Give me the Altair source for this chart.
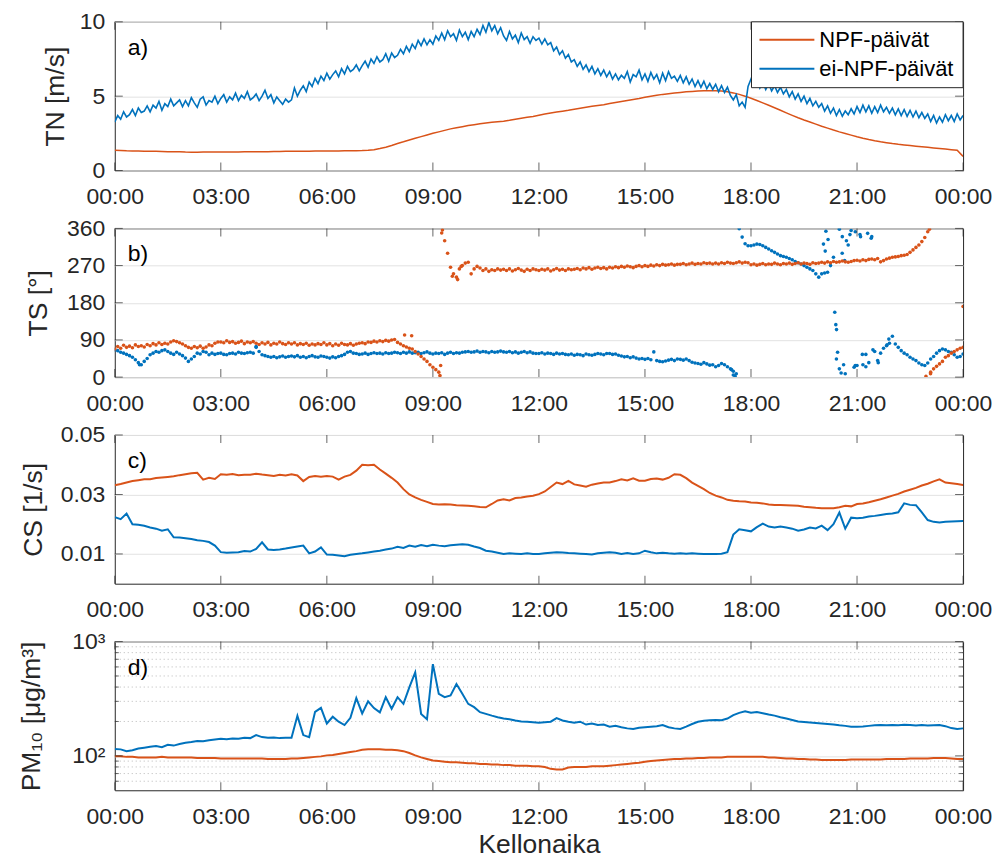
import altair as alt
import pandas as pd

# ---------------------------------------------------------------- data
SERIES = ["NPF-päivät", "ei-NPF-päivät"]
COLORS = ["#D95319", "#0072BD"]
HOUR_TICKS = [0, 3, 6, 9, 12, 15, 18, 21, 24]

# time of day in hours: 10-min steps for smooth series, 5-min steps for noisy ones
H10 = [round(i / 6, 4) for i in range(145)]
H5 = [round(i / 12, 4) for i in range(289)]

# a) wind speed TN [m/s]
TN_NPF = [
    1.36, 1.35, 1.33, 1.32, 1.31, 1.30,
    1.30, 1.29, 1.28, 1.27, 1.27, 1.26,
    1.24, 1.23, 1.23, 1.24, 1.24, 1.24,
    1.25, 1.25, 1.24, 1.25, 1.26, 1.26,
    1.26, 1.27, 1.27, 1.28, 1.28, 1.29,
    1.29, 1.30, 1.30, 1.30, 1.31, 1.31,
    1.31, 1.32, 1.32, 1.33, 1.33, 1.33,
    1.34, 1.36, 1.40, 1.48, 1.57, 1.68,
    1.82, 1.93, 2.05, 2.17, 2.28, 2.39,
    2.50, 2.60, 2.70, 2.80, 2.88, 2.95,
    3.02, 3.08, 3.14, 3.19, 3.24, 3.28,
    3.32, 3.38, 3.45, 3.52, 3.58, 3.64,
    3.72, 3.80, 3.87, 3.93, 3.99, 4.05,
    4.12, 4.19, 4.26, 4.32, 4.38, 4.43,
    4.50, 4.57, 4.64, 4.71, 4.78, 4.85,
    4.93, 5.00, 5.06, 5.12, 5.17, 5.21,
    5.25, 5.29, 5.32, 5.34, 5.36, 5.37,
    5.37, 5.35, 5.30, 5.22, 5.12, 5.00,
    4.86, 4.71, 4.55, 4.39, 4.22, 4.05,
    3.88, 3.71, 3.55, 3.40, 3.26, 3.12,
    2.98, 2.85, 2.72, 2.60, 2.49, 2.38,
    2.27, 2.17, 2.08, 2.00, 1.93, 1.87,
    1.81, 1.76, 1.72, 1.68, 1.64, 1.60,
    1.56, 1.52, 1.48, 1.44, 1.40, 1.36,
    0.95,
]
# 5-min values
TN_NON = [
    3.25, 3.70, 3.45, 3.95, 3.60, 3.75, 4.10, 3.70, 4.20, 3.90, 4.00, 4.35,
    3.95, 4.40, 4.20, 4.65, 4.05, 4.50, 4.30, 4.80, 4.35, 4.55, 4.75, 4.30,
    4.70, 4.35, 4.90, 4.55, 4.25, 4.80, 4.95, 4.40, 4.70, 4.60, 5.00, 4.50,
    4.85, 5.10, 4.60, 4.95, 4.75, 5.20, 4.70, 5.05, 4.85, 5.30, 4.75, 4.90,
    5.15, 4.70, 5.00, 5.40, 4.85, 5.10, 4.55, 4.95, 4.70, 4.45, 4.80, 4.60,
    4.75, 5.55, 5.00, 5.40, 5.70, 5.30, 5.95, 5.65, 6.20, 5.85, 6.35, 6.05,
    6.55, 6.15, 6.45, 6.70, 6.30, 6.85, 6.50, 7.00, 6.65, 6.80, 7.10, 6.70,
    7.05, 7.35, 6.95, 7.50, 7.20, 7.65, 7.30, 7.45, 7.85, 7.35, 7.90, 7.60,
    7.75, 8.15, 7.85, 8.35, 8.00, 8.50, 8.20, 8.75, 8.40, 8.85, 8.45, 8.80,
    8.50, 9.05, 8.75, 9.25, 8.80, 9.40, 9.00, 9.20, 8.75, 9.45, 9.00, 9.30,
    8.80, 9.35, 9.00, 9.50, 9.15, 9.75, 9.30, 9.95, 9.40, 9.75, 9.20, 9.60,
    9.05, 8.75, 9.35, 8.85, 9.10, 8.60, 9.25, 8.80, 9.00, 8.55, 9.00, 8.75,
    8.90, 8.50, 8.85, 8.45, 8.60, 8.05, 8.30, 7.80, 8.05, 7.55, 7.80, 7.30,
    7.45, 7.00, 7.30, 6.80, 7.10, 6.65, 7.00, 6.50, 6.85, 6.40, 6.75, 6.30,
    6.65, 6.15, 6.50, 6.10, 6.40, 6.20, 6.65, 5.95, 6.45, 6.30, 6.75, 6.10,
    6.50, 6.00, 6.60, 6.15, 6.45, 5.90, 6.55, 6.05, 6.65, 6.20, 6.35, 6.00,
    6.40, 5.90, 6.30, 5.80, 6.15, 5.65, 6.05, 5.60, 6.00, 5.50, 5.85, 5.45,
    5.80, 5.30, 5.70, 5.25, 5.60, 5.05, 4.75, 5.10, 4.35, 4.60, 4.25, 5.65,
    6.15, 5.70, 6.05, 5.55, 5.95, 5.45, 5.85, 5.35, 5.70, 5.25, 5.60, 5.15,
    5.45, 4.95, 5.30, 4.80, 5.15, 4.65, 5.00, 4.50, 4.85, 4.35, 4.65, 4.25,
    4.50, 4.00, 4.35, 3.85, 4.20, 3.70, 4.10, 3.65, 4.00, 3.75, 4.15, 3.80,
    4.30, 3.90, 4.40, 3.95, 4.35, 3.85, 4.30, 3.90, 4.40, 3.95, 4.25, 3.85,
    4.20, 3.75, 4.15, 3.70, 4.10, 3.65, 4.05, 3.60, 4.00, 3.55, 3.90, 3.50,
    3.80, 3.30, 3.70, 3.20, 3.60, 3.25, 3.75, 3.35, 3.70, 3.30, 3.80, 3.40,
    3.70,
]

# b) wind direction TS [deg], 5-min values plus scattered single readings
TS_NPF = [
    68, 74, 70, 77, 72, 75, 71, 78, 74, 76, 73, 79,
    76, 81, 78, 83, 79, 82, 80, 85, 88, 86, 83, 80,
    76, 72, 70, 74, 71, 75, 70, 73, 78, 76, 82, 85,
    85, 83, 88, 84, 86, 82, 84, 87, 81, 85, 83, 86,
    82, 79, 83, 80, 84, 78, 82, 80, 85, 81, 79, 83,
    80, 83, 78, 81, 79, 82, 77, 80, 78, 81, 79, 83,
    78, 81, 76, 80, 77, 82, 79, 78, 81, 77, 80, 82,
    83, 81, 85, 84, 87, 85, 88, 86, 89, 87, 90, 91,
    84, 80, 76, 73, 70, 68, 62, 56, 50, 44, 38, 30,
    24, 18, 12, 349, 330, 300, 266, 250, 242, 262, 270, 276,
    278, 250, 262, 268, 264, 258, 262, 256, 260, 258, 262, 259,
    261, 258, 262, 257, 260, 263, 259, 256, 261, 258, 262, 260,
    258, 261, 259, 262, 257, 260, 263, 259, 261, 258, 262, 260,
    261, 263, 260, 264, 262, 265, 261, 264, 266, 263, 265, 262,
    266, 264, 267, 265, 268, 266, 269, 267, 265, 268, 270, 267,
    270, 268, 271, 269, 272, 270, 273, 271, 272, 274, 271, 273,
    273, 275, 272, 274, 276, 273, 275, 274, 277, 275, 276, 274,
    276, 274, 277, 275, 278, 276, 275, 277, 279, 276, 278, 277,
    272, 274, 271, 273, 275, 272, 274, 273, 276, 274, 272, 275,
    274, 276, 273, 275, 277, 274, 276, 275, 273, 277, 275, 276,
    278, 276, 279, 277, 280, 278, 279, 281, 279, 278, 280, 282,
    283, 281, 284, 282, 285, 286, 284, 287, 279, 282, 286, 288,
    290, 291, 292, 294, 295, 297, 302, 308, 314, 320, 328, 338,
    352, 12, 20, 26, 32, 38, 48, 52, 58, 62, 66, 70,
    72,
]
TS_NPF_EXTRA_H = [8.2, 8.4, 9.2, 9.22, 9.27, 9.55, 9.7, 9.8, 22.95, 23.05, 23.08, 24.0]
TS_NPF_EXTRA_V = [102, 100, 4, 28, 356, 244, 236, 268, 2, 358, 8, 171]

TS_NON = [
    66, 64, 60, 58, 55, 52, 48, 42, 35, 30, 38, 45,
    54, 58, 62, 60, 64, 66, 62, 58, 55, 60, 56, 52,
    46, 38, 44, 50, 58, 56, 62, 60, 54, 58, 55, 57,
    58, 55, 54, 57, 58, 56, 60, 58, 57, 59, 60, 58,
    72, 62, 54, 52, 50, 48, 50, 47, 49, 51, 48, 50,
    51, 49, 52, 48, 50, 47, 50, 52, 49, 48, 51, 50,
    48, 46, 49, 47, 50, 52, 55, 60, 62, 58, 57, 55,
    56, 58, 55, 57, 59, 57, 58, 56, 59, 57, 58, 60,
    59, 57, 60, 58, 61, 58, 59, 60, 57, 59, 61, 58,
    56, 58, 57, 59, 55, 58, 60, 57, 59, 58, 60, 61,
    62, 60, 61, 63, 60, 62, 61, 59, 62, 60, 61, 63,
    61, 60, 62, 59, 61, 58, 60, 62, 59, 61, 58, 57,
    57, 59, 56, 58, 57, 55, 58, 56, 57, 55, 54, 56,
    53, 55, 54, 52, 56, 54, 53, 55, 57, 56, 54, 57,
    57, 55, 56, 53, 51, 49, 50, 47, 49, 46, 44, 45,
    43, 45, 42, 61, 40, 38, 37, 39, 41, 43, 40, 44,
    43, 41, 44, 40, 36, 34, 33, 31, 35, 32, 29, 30,
    25, 28, 33, 30, 25, 20, 14, 8, 359, 339, 323, 318,
    318, 320, 322, 321, 318, 314, 310, 306, 302, 298, 294, 292,
    290, 287, 284, 280, 277, 274, 270, 266, 262, 258, 250, 242,
    250, 252, 254, 270, 290, 44, 20, 340, 8, 320, 355, 24,
    28, 345, 30, 55, 35, 340, 62, 40, 58, 70, 76, 82,
    99, 80, 72, 64, 58, 54, 48, 44, 40, 34, 30, 28,
    34, 44, 50, 58, 64, 68, 66, 62, 60, 54, 48, 50,
    56,
]
TS_NON_EXTRA_H = [0.7, 4.0, 17.45, 17.5, 17.55, 20.05, 20.1, 20.12, 20.18, 20.37, 20.4,
                  20.42, 20.45, 20.5, 20.55, 20.58, 20.62, 20.65, 20.7, 20.8, 20.95,
                  20.95, 21.1, 21.15, 21.25, 21.3, 21.4, 21.45, 21.6, 21.85, 21.9]
TS_NON_EXTRA_V = [30, 74, 18, 5, 2, 322, 305, 353, 333, 157, 127,
                  115, 60, 358, 10, 300, 30, 282, 330, 345, 352,
                  28, 340, 55, 25, 348, 336, 66, 35, 78, 92]

# c) condensation sink CS [1/s]
CS_NPF = [
    0.0331, 0.0335, 0.0340, 0.0345, 0.0348, 0.0351,
    0.0351, 0.0355, 0.0357, 0.0359, 0.0361, 0.0365,
    0.0368, 0.0371, 0.0373, 0.0350, 0.0356, 0.0352,
    0.0368, 0.0366, 0.0369, 0.0365, 0.0366, 0.0366,
    0.0370, 0.0367, 0.0365, 0.0362, 0.0366, 0.0364,
    0.0368, 0.0364, 0.0345, 0.0359, 0.0362, 0.0360,
    0.0362, 0.0360, 0.0350, 0.0360, 0.0366, 0.0380,
    0.0400, 0.0398, 0.0400, 0.0384, 0.0370, 0.0356,
    0.0340, 0.0318, 0.0300, 0.0290, 0.0282, 0.0275,
    0.0268, 0.0266, 0.0267, 0.0266, 0.0264, 0.0263,
    0.0262, 0.0260, 0.0258, 0.0257, 0.0268, 0.0280,
    0.0284, 0.0280, 0.0288, 0.0290, 0.0293, 0.0296,
    0.0301, 0.0310, 0.0325, 0.0340, 0.0335, 0.0346,
    0.0334, 0.0330, 0.0326, 0.0333, 0.0337, 0.0340,
    0.0340, 0.0345, 0.0351, 0.0347, 0.0354, 0.0346,
    0.0346, 0.0352, 0.0354, 0.0350, 0.0356, 0.0368,
    0.0366, 0.0355, 0.0340, 0.0329, 0.0318, 0.0305,
    0.0296, 0.0290, 0.0282, 0.0279, 0.0277, 0.0276,
    0.0273, 0.0272, 0.0270, 0.0266, 0.0265, 0.0265,
    0.0264, 0.0263, 0.0262, 0.0259, 0.0257, 0.0255,
    0.0254, 0.0254, 0.0254, 0.0257, 0.0262, 0.0260,
    0.0268, 0.0270, 0.0274, 0.0279, 0.0284, 0.0290,
    0.0296, 0.0302, 0.0310, 0.0316, 0.0322, 0.0330,
    0.0336, 0.0344, 0.0351, 0.0340, 0.0338, 0.0335,
    0.0332,
]
CS_NON = [
    0.0224, 0.0217, 0.0236, 0.0200, 0.0198, 0.0195,
    0.0189, 0.0185, 0.0178, 0.0183, 0.0156, 0.0155,
    0.0153, 0.0150, 0.0146, 0.0144, 0.0140, 0.0128,
    0.0106, 0.0104, 0.0105, 0.0106, 0.0110, 0.0108,
    0.0117, 0.0139, 0.0115, 0.0113, 0.0115, 0.0118,
    0.0122, 0.0125, 0.0128, 0.0102, 0.0108, 0.0122,
    0.0098, 0.0097, 0.0095, 0.0092, 0.0097, 0.0100,
    0.0102, 0.0105, 0.0108, 0.0111, 0.0115, 0.0118,
    0.0124, 0.0120, 0.0128, 0.0124, 0.0130, 0.0126,
    0.0131, 0.0128, 0.0126, 0.0129, 0.0131, 0.0133,
    0.0131, 0.0125, 0.0120, 0.0111, 0.0108, 0.0104,
    0.0100, 0.0102, 0.0101, 0.0100, 0.0102, 0.0100,
    0.0100, 0.0102, 0.0104, 0.0106, 0.0105, 0.0103,
    0.0102, 0.0101, 0.0100, 0.0098, 0.0102, 0.0104,
    0.0106, 0.0104, 0.0100, 0.0103, 0.0100, 0.0102,
    0.0111, 0.0106, 0.0102, 0.0104, 0.0102, 0.0101,
    0.0102, 0.0101, 0.0102, 0.0101, 0.0100, 0.0100,
    0.0100, 0.0101, 0.0106, 0.0165, 0.0183, 0.0180,
    0.0176, 0.0190, 0.0202, 0.0192, 0.0189, 0.0192,
    0.0189, 0.0185, 0.0178, 0.0182, 0.0189, 0.0186,
    0.0195, 0.0180, 0.0200, 0.0239, 0.0185, 0.0222,
    0.0220, 0.0222, 0.0226, 0.0228, 0.0231, 0.0234,
    0.0236, 0.0240, 0.0270, 0.0265, 0.0264, 0.0240,
    0.0214, 0.0208, 0.0206, 0.0208, 0.0209, 0.0210,
    0.0211,
]

# d) PM10 [ug/m3]
PM_NPF = [
    99, 99, 98, 98, 97, 97,
    97, 97, 98, 97, 97, 97,
    97, 97, 96, 96, 96, 96,
    95, 95, 95, 95, 95, 95,
    95, 95, 94, 94, 94, 94,
    95, 95, 96, 97, 98, 99,
    101, 102, 104, 106, 108, 110,
    113, 114, 114, 114, 113, 113,
    112, 110, 106, 101, 97, 94,
    91, 90, 89, 88, 88, 87,
    86, 86, 85, 85, 84, 84,
    83, 83, 82, 82, 82, 81,
    81, 80, 77, 76, 76, 79,
    80, 80, 80, 81, 81, 81,
    82, 83, 84, 85, 86, 87,
    89, 90, 91, 92, 93, 94,
    94, 95, 95, 96, 96, 97,
    97, 97, 98, 98, 98, 98,
    98, 98, 98, 97, 97, 96,
    95, 95, 94, 94, 93, 93,
    92, 92, 92, 92, 92, 93,
    93, 93, 93, 93, 93, 94,
    94, 94, 94, 95, 95, 95,
    95, 96, 96, 96, 95, 94,
    94,
]
PM_NON = [
    115, 114, 110, 112, 116, 118,
    120, 122, 119, 125, 123, 127,
    130, 132, 135, 134, 137, 139,
    141, 140, 142, 141, 144, 143,
    152, 146, 144, 145, 143, 144,
    144, 224, 152, 146, 243, 263,
    192, 220, 199, 186, 215, 320,
    235, 300, 262, 240, 326, 258,
    326, 285, 398, 537, 233, 209,
    635, 349, 326, 338, 426, 350,
    285, 267, 241, 233, 225, 218,
    212, 209, 204, 200, 199, 197,
    195, 197, 199, 214, 204, 199,
    195, 199, 188, 192, 186, 188,
    180, 183, 178, 174, 172, 176,
    178, 180, 182, 186, 178, 174,
    172, 180, 190, 199, 203, 205,
    206, 205, 212, 227, 238, 246,
    238, 242, 236, 230, 225, 218,
    212, 206, 200, 198, 196, 194,
    192, 190, 188, 185, 183, 180,
    180, 181, 183, 185, 186, 185,
    186, 185, 187, 186, 184, 186,
    184, 185, 186, 182, 175, 172,
    174,
]
PM_MINOR = [60, 70, 80, 90, 200, 300, 400, 500, 600, 700, 800, 900]

# ---------------------------------------------------------------- style
W, H = 850, 149
FONT = "Liberation Sans"
AX = "#262626"
TICK_FS = 23
TITLE_FS = 26.5
XLABEL = "(datum.value % 24 < 10 ? '0' : '') + (datum.value % 24) + ':00'"


def frame(hours_a, npf, hours_b, non):
    a = pd.DataFrame({"h": hours_a, "v": npf, "s": SERIES[0]})
    b = pd.DataFrame({"h": hours_b, "v": non, "s": SERIES[1]})
    return pd.concat([a, b], ignore_index=True)


def x_enc(title=None):
    return alt.X(
        "h:Q",
        scale=alt.Scale(domain=[0, 24], nice=False, zero=False),
        axis=alt.Axis(values=HOUR_TICKS, labelExpr=XLABEL, title=title, grid=False,
                      ticks=False, domain=False, labelFlush=False, labelOverlap=False,
                      labelPadding=15, titlePadding=3),
    )


def y_enc(scale, values, title, title_x, **extra):
    return alt.Y(
        "v:Q",
        scale=scale,
        axis=alt.Axis(values=values, title=title, grid=True, ticks=False, domain=False,
                      labelFlush=False, labelOverlap=False, labelPadding=10,
                      titleX=title_x, titleBaseline="middle", **extra),
    )


COLOR = alt.Color("s:N", scale=alt.Scale(domain=SERIES, range=COLORS), legend=None)


def frame_ticks(xe, ye, yvals, minor=None):
    """Inward-pointing tick marks on all four sides of a panel."""
    xt = pd.DataFrame({"h": HOUR_TICKS})
    yt = pd.DataFrame({"v": yvals})
    layers = [
        alt.Chart(xt).mark_tick(orient="vertical", size=8, thickness=1, color=AX)
        .encode(x=xe, y=alt.value(4)),
        alt.Chart(xt).mark_tick(orient="vertical", size=8, thickness=1, color=AX)
        .encode(x=xe, y=alt.value(H - 4)),
        alt.Chart(yt).mark_tick(orient="horizontal", size=8, thickness=1, color=AX)
        .encode(y=ye, x=alt.value(4)),
        alt.Chart(yt).mark_tick(orient="horizontal", size=8, thickness=1, color=AX)
        .encode(y=ye, x=alt.value(W - 4)),
    ]
    if minor is not None:
        mt = pd.DataFrame({"v": minor})
        layers += [
            alt.Chart(mt).mark_tick(orient="horizontal", size=4, thickness=1, color=AX)
            .encode(y=ye, x=alt.value(2)),
            alt.Chart(mt).mark_tick(orient="horizontal", size=4, thickness=1, color=AX)
            .encode(y=ye, x=alt.value(W - 2)),
        ]
    return layers


def panel_label(txt):
    return alt.Chart(pd.DataFrame({"t": [txt]})).mark_text(
        align="left", baseline="middle", fontSize=TICK_FS, font=FONT, color="black"
    ).encode(text="t:N", x=alt.value(13), y=alt.value(26))


# ---------------------------------------------------------------- a) TN
xa = x_enc()
ya = y_enc(alt.Scale(domain=[0, 10], nice=False, zero=False), [0, 5, 10], "TN [m/s]", -59)
tn = alt.Chart(frame(H10, TN_NPF, H5, TN_NON)).mark_line(clip=True).encode(
    x=xa, y=ya, color=COLOR,
    size=alt.Size("s:N", scale=alt.Scale(domain=SERIES, range=[1.5, 1.6]), legend=None),
)
legend_df = pd.DataFrame({"s": SERIES})
leg_box = alt.Chart(pd.DataFrame({"s": ["box"]})).mark_rect(
    fill="white", stroke=AX, strokeWidth=1
).encode(x=alt.value(638), x2=alt.value(W), y=alt.value(0), y2=alt.value(66))
leg_items = []
for i, name in enumerate(SERIES):
    yy = 18 + 29 * i
    leg_items.append(
        alt.Chart(legend_df.iloc[[i]]).mark_rule(color=COLORS[i], strokeWidth=2)
        .encode(x=alt.value(646), x2=alt.value(701), y=alt.value(yy))
    )
    leg_items.append(
        alt.Chart(legend_df.iloc[[i]]).mark_text(
            align="left", baseline="middle", fontSize=22, font=FONT, color="black"
        ).encode(text="s:N", x=alt.value(706), y=alt.value(yy))
    )
panel_a = alt.layer(
    tn, *frame_ticks(xa, ya, [0, 5, 10]), leg_box, *leg_items, panel_label("a)")
).properties(width=W, height=H)

# ---------------------------------------------------------------- b) TS
xb = x_enc()
yb = y_enc(alt.Scale(domain=[0, 360], nice=False, zero=False), [0, 90, 180, 270, 360],
           "TS [°]", -76)
ts_df = pd.concat([
    pd.DataFrame({"h": H5, "v": TS_NON, "s": SERIES[1]}),
    pd.DataFrame({"h": TS_NON_EXTRA_H, "v": TS_NON_EXTRA_V, "s": SERIES[1]}),
    pd.DataFrame({"h": H5, "v": TS_NPF, "s": SERIES[0]}),
    pd.DataFrame({"h": TS_NPF_EXTRA_H, "v": TS_NPF_EXTRA_V, "s": SERIES[0]}),
], ignore_index=True)
ts = alt.Chart(ts_df).mark_circle(size=13, opacity=1, clip=True).encode(
    x=xb, y=yb, color=COLOR
)
panel_b = alt.layer(
    ts, *frame_ticks(xb, yb, [0, 90, 180, 270, 360]), panel_label("b)")
).properties(width=W, height=H)

# ---------------------------------------------------------------- c) CS
xc = x_enc()
yc = y_enc(alt.Scale(domain=[0, 0.05], nice=False, zero=False), [0.01, 0.03, 0.05],
           "CS [1/s]", -81, format=".2f")
cs = alt.Chart(frame(H10, CS_NPF, H10, CS_NON)).mark_line(strokeWidth=2, clip=True).encode(
    x=xc, y=yc, color=COLOR
)
panel_c = alt.layer(
    cs, *frame_ticks(xc, yc, [0.01, 0.03, 0.05]), panel_label("c)")
).properties(width=W, height=H)

# ---------------------------------------------------------------- d) PM10
xd = x_enc("Kellonaika")
yd = y_enc(alt.Scale(type="log", domain=[50, 1000], nice=False), [100, 1000],
           "PM₁₀ [μg/m³]", -83,
           labelExpr="datum.value == 100 ? '10²' : '10³'")
minor_grid = alt.Chart(pd.DataFrame({"v": PM_MINOR})).mark_rule(
    color="#b8b8b8", strokeDash=[1, 3], strokeWidth=1
).encode(y=yd)
pm = alt.Chart(frame(H10, PM_NPF, H10, PM_NON)).mark_line(strokeWidth=2, clip=True).encode(
    x=xd, y=yd, color=COLOR
)
panel_d = alt.layer(
    minor_grid, pm, *frame_ticks(xd, yd, [100, 1000], minor=PM_MINOR), panel_label("d)")
).properties(width=W, height=H)

# ---------------------------------------------------------------- assemble
chart = (
    alt.vconcat(panel_a, panel_b, panel_c, panel_d, spacing=7)
    .properties(padding={"left": 18, "top": 9, "right": 5, "bottom": 0}, background="white")
    .configure_view(stroke=AX, strokeWidth=1)
    .configure_axis(
        labelFont=FONT, titleFont=FONT, labelColor=AX, titleColor=AX,
        labelFontSize=TICK_FS, titleFontSize=TITLE_FS, titleFontWeight="normal",
        gridColor="#e2e2e2", gridWidth=1,
    )
)

chart.save("out.html", embed_options={"renderer": "svg", "actions": False})
